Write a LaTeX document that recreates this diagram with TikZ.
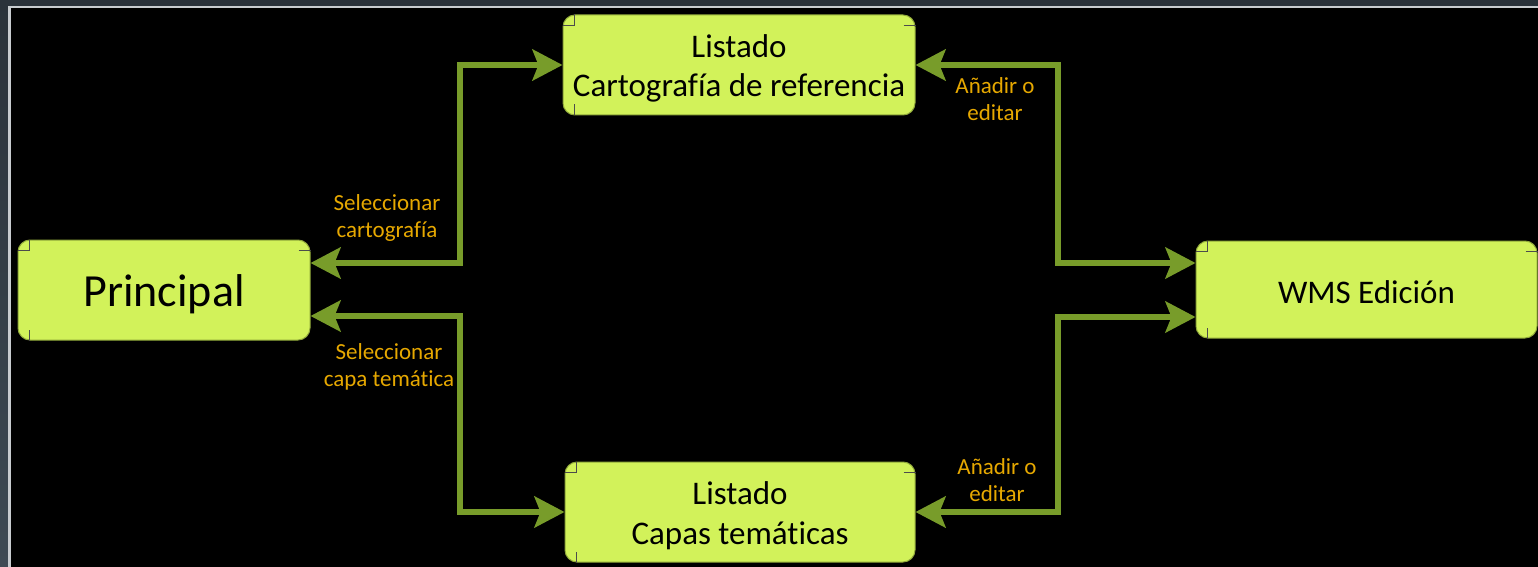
\documentclass[tikz,border=0pt]{standalone}
\usepackage{fontspec}
\setmainfont{Carlito}[Ligatures=NoCommon]
\usetikzlibrary{arrows.meta,calc}
\definecolor{bgslate}{HTML}{2A323A}
\definecolor{bgslateb}{HTML}{3E4A54}
\definecolor{framegray}{HTML}{C8CCD0}
\definecolor{boxfill}{HTML}{D2F25A}
\definecolor{boxedge}{HTML}{8FA83A}
\definecolor{arrgreen}{HTML}{789C2A}
\definecolor{labgold}{HTML}{E6A800}
\newcommand{\boxmarks}[1]{%
  \draw[cornerline] (#1.north west) ++(12,0) -- ++(0,11) -- ++(-12,0);
  \draw[cornerline] (#1.north east) ++(-12,11) -- ++(12,0);
  \draw[cornerline] (#1.south west) ++(12,0) -- ++(0,-11);
}
\newcommand{\topstrut}{\rule{0pt}{30pt}}
\begin{document}
\begin{tikzpicture}[x=1pt,y=-1pt,
  boxnode/.style={draw=boxedge, line width=1pt, fill=boxfill, rounded corners=12pt,
    inner sep=0pt, align=center, text=black},
  boxtext/.style={font=\fontsize{33}{39.5}\selectfont},
  bigtext/.style={font=\fontsize{46}{52}\selectfont},
  lab/.style={align=center, text=labgold, inner sep=0pt, font=\fontsize{23}{27.5}\selectfont},
  arr/.style={draw=arrgreen, line width=6.5pt, line join=miter,
    {Stealth[length=30pt,width=31pt,inset=6pt]}-{Stealth[length=30pt,width=31pt,inset=6pt]}},
  cornerline/.style={draw=black!70, line width=0.9pt}
]
\useasboundingbox (0,0) rectangle (1538,567);
\shade[top color=bgslate, bottom color=bgslateb] (0,0) rectangle (1538,567);
\fill[framegray] (8,6) rectangle (1538,567);
\fill[black] (10.5,8.5) rectangle (1538,567);

\node[boxnode, bigtext, minimum width=292pt, minimum height=100pt] (P) at (164,290) {\rule{0pt}{40pt}Principal};
\node[boxnode, boxtext, minimum width=352pt, minimum height=100pt] (LC) at (739,65) {\topstrut Listado\\Cartografía de referencia};
\node[boxnode, boxtext, minimum width=341pt, minimum height=97pt] (W) at (1366.5,289.5) {\rule{0pt}{28pt}WMS Edición};
\node[boxnode, boxtext, minimum width=350pt, minimum height=100pt] (LT) at (740,512) {\topstrut Listado\\Capas temáticas};
\boxmarks{P}\boxmarks{LC}\boxmarks{W}\boxmarks{LT}

\coordinate (jL) at (460,0);
\coordinate (jR) at (1058,0);
\coordinate (Pu) at ([yshift=27pt]P.east);
\coordinate (Pd) at ([yshift=-26pt]P.east);
\coordinate (Wu) at ([yshift=26.5pt]W.west);
\coordinate (Wd) at ([yshift=-27.5pt]W.west);

\draw[arr] (Pu) -| (jL |- LC.west) -- (LC.west);
\draw[arr] (Pd) -| (jL |- LT.west) -- (LT.west);
\draw[arr] (LC.east) -| (jR |- Wu) -- (Wu);
\draw[arr] (LT.east) -| (jR |- Wd) -- (Wd);

\node[lab] (l1) at (387,218) {Seleccionar\\cartografía};
\node[lab] (l2) at (389,367) {Seleccionar\\capa temática};
\node[lab] (l3) at (995,99) {Añadir o\\editar};
\node[lab] (l4) at (997,480) {Añadir o\\editar};
\end{tikzpicture}
\end{document}
